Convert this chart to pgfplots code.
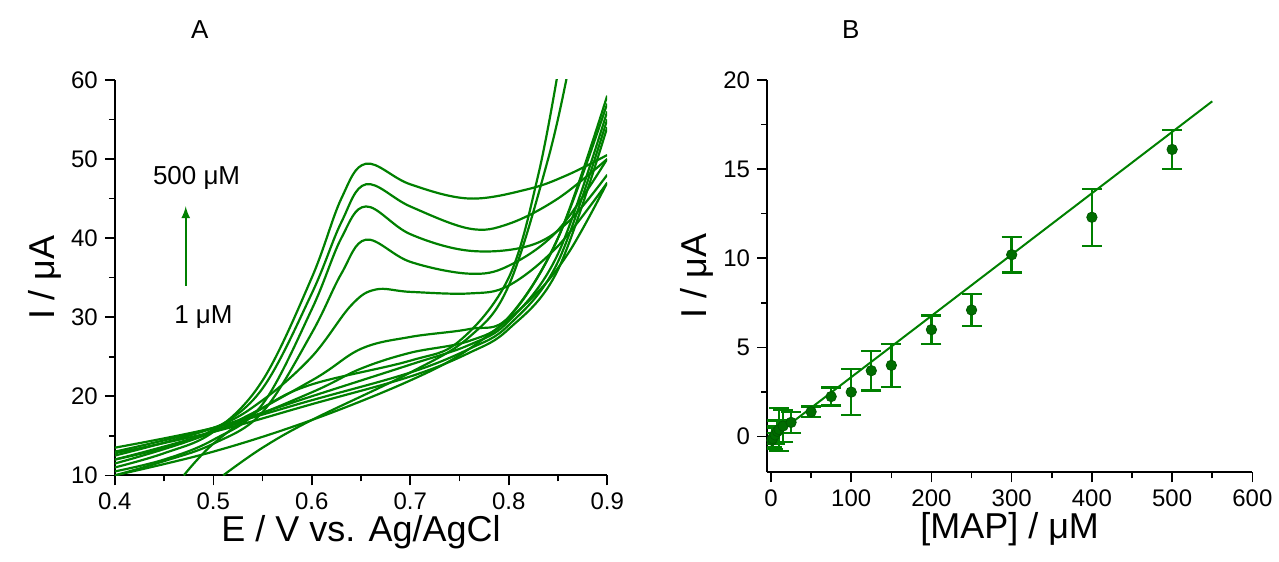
\documentclass[border=0pt]{standalone}
\usepackage{pgfplots}
\pgfplotsset{compat=1.18}
\usepackage{fontspec}
\setmainfont{Liberation Sans}
\definecolor{gr}{RGB}{0,128,0}
\begin{document}
\begin{tikzpicture}
\path (0pt,0pt) rectangle (639.5pt,281pt);
\pgfplotsset{every axis/.style={scale only axis, axis lines=left, axis line style={-, line width=0.9pt},
 tick align=outside, minor tick num=1, tick style={black, line width=0.8pt}, major tick length=5pt, minor tick length=3pt,
 tick label style={font=\fontsize{12}{14}\selectfont}, label style={font=\fontsize{18}{21}\selectfont},
 /pgf/number format/assume math mode=true, anchor=south west}}
\begin{axis}[at={(57.5pt,43pt)}, width=246.5pt, height=198pt, xmin=0.4, xmax=0.9, ymin=10, ymax=60,
 xtick={0.4,0.5,...,0.9}, xticklabel style={/pgf/number format/.cd,fixed,fixed zerofill,precision=1},
 ytick={10,20,...,60}, xlabel={E / V vs. Ag/AgCl}, ylabel={I / μA}, clip=true,
 xlabel style={yshift=4pt}, ylabel style={yshift=-2pt},
 every axis plot post/.append style={gr, solid, line width=1.1pt, smooth, tension=0.6, mark=none}]
\addplot coordinates {(0.4,11)(0.45,12.8)(0.5,15.5)(0.55,22)(0.6,35)(0.63,45)(0.655,49.4)(0.7,46.8)(0.76,45)(0.82,46.2)(0.86,48)(0.9,50.5)};
\addplot coordinates {(0.4,12)(0.45,13.5)(0.5,15.8)(0.55,21)(0.6,33)(0.63,42)(0.655,46.8)(0.7,44)(0.76,41.2)(0.8,41.8)(0.85,45)(0.9,50)};
\addplot coordinates {(0.4,10.5)(0.45,12)(0.5,14.5)(0.55,19)(0.6,31)(0.63,40)(0.655,44)(0.7,40.5)(0.76,38.4)(0.82,39)(0.86,42)(0.9,48)};
\addplot coordinates {(0.4,10)(0.45,11.8)(0.5,14)(0.55,18)(0.6,28)(0.63,35.5)(0.655,39.8)(0.7,37)(0.76,35.5)(0.8,36.5)(0.85,41)(0.9,50)};
\addplot coordinates {(0.4,12.5)(0.5,16)(0.55,19.5)(0.6,25)(0.64,31.5)(0.665,33.5)(0.7,33.2)(0.76,33)(0.8,34)(0.85,39)(0.9,47)};
\addplot coordinates {(0.4,11.5)(0.5,15.5)(0.6,22)(0.65,26)(0.7,27.5)(0.76,28.5)(0.8,30)(0.85,40)(0.9,57)};
\addplot coordinates {(0.4,12)(0.5,15.5)(0.6,20.5)(0.65,23.5)(0.7,25.5)(0.76,27)(0.8,30)(0.85,40)(0.9,58)};
\addplot coordinates {(0.4,13)(0.5,16)(0.6,20)(0.7,24)(0.76,26.5)(0.8,29.5)(0.85,38)(0.9,56)};
\addplot coordinates {(0.4,13.5)(0.5,16)(0.6,19.5)(0.7,23)(0.76,26)(0.8,29)(0.85,37)(0.9,55)};
\addplot coordinates {(0.4,12.8)(0.5,15.5)(0.6,19)(0.7,22.5)(0.76,25.5)(0.8,28.5)(0.85,36)(0.9,54)};
\addplot coordinates {(0.47,10)(0.5,14)(0.55,18.5)(0.6,21.5)(0.7,24.5)(0.75,27)(0.8,35)(0.83,48)(0.85,61)};
\addplot coordinates {(0.51,10)(0.55,13.5)(0.6,17)(0.7,23)(0.76,27.5)(0.8,34)(0.84,50)(0.86,61)};
\addplot coordinates {(0.4,10)(0.5,13)(0.6,17)(0.7,22)(0.76,26)(0.82,32)(0.86,38)(0.9,47)};
\node[font=\fontsize{13}{15}\selectfont] at (axis cs:0.483,47.6) {500 μM};
\node[font=\fontsize{13}{15}\selectfont] at (axis cs:0.49,30) {1 μM};
\draw[gr, line width=1pt, -latex] (axis cs:0.472,34) -- (axis cs:0.472,44);
\end{axis}
\begin{axis}[at={(384pt,44.5pt)}, width=243pt, height=196.5pt, xmin=-5, xmax=600, ymin=-2, ymax=20,
 xtick={0,100,...,600}, ytick={0,5,...,20}, xlabel={[MAP] / μM}, ylabel={I / μA},
 xlabel style={yshift=4pt}, ylabel style={yshift=-2pt}]
\addplot[gr, line width=1pt, no markers] coordinates {(0,-0.1)(550,18.8)};
\addplot[gr, only marks, mark=*, mark size=2.6pt, mark options={fill=gr!85!black, draw=gr!70!black},
 error bars/.cd, y dir=both, y explicit, error bar style={gr, line width=1.2pt}, error mark options={gr, line width=1.2pt, mark size=5pt, rotate=90}]
 coordinates {(1,-0.2) +- (0,0.4) (2,-0.1) +- (0,0.6) (5,0.1) +- (0,0.5) (8,0.3) +- (0,0.6) (10,0.4) +- (0,1.2) (15,0.6) +- (0,0.9) (25,0.8) +- (0,0.6)
 (50,1.4) +- (0,0.3) (75,2.25) +- (0,0.5) (100,2.5) +- (0,1.3) (125,3.7) +- (0,1.1) (150,4.0) +- (0,1.2) (200,6.0) +- (0,0.8)
 (250,7.1) +- (0,0.9) (300,10.2) +- (0,1.0) (400,12.3) +- (0,1.6) (500,16.1) +- (0,1.1)};
\end{axis}
\node[font=\fontsize{13}{15}\selectfont] at (100pt,266pt) {A};
\node[font=\fontsize{13}{15}\selectfont] at (426pt,266pt) {B};
\end{tikzpicture}
\end{document}
